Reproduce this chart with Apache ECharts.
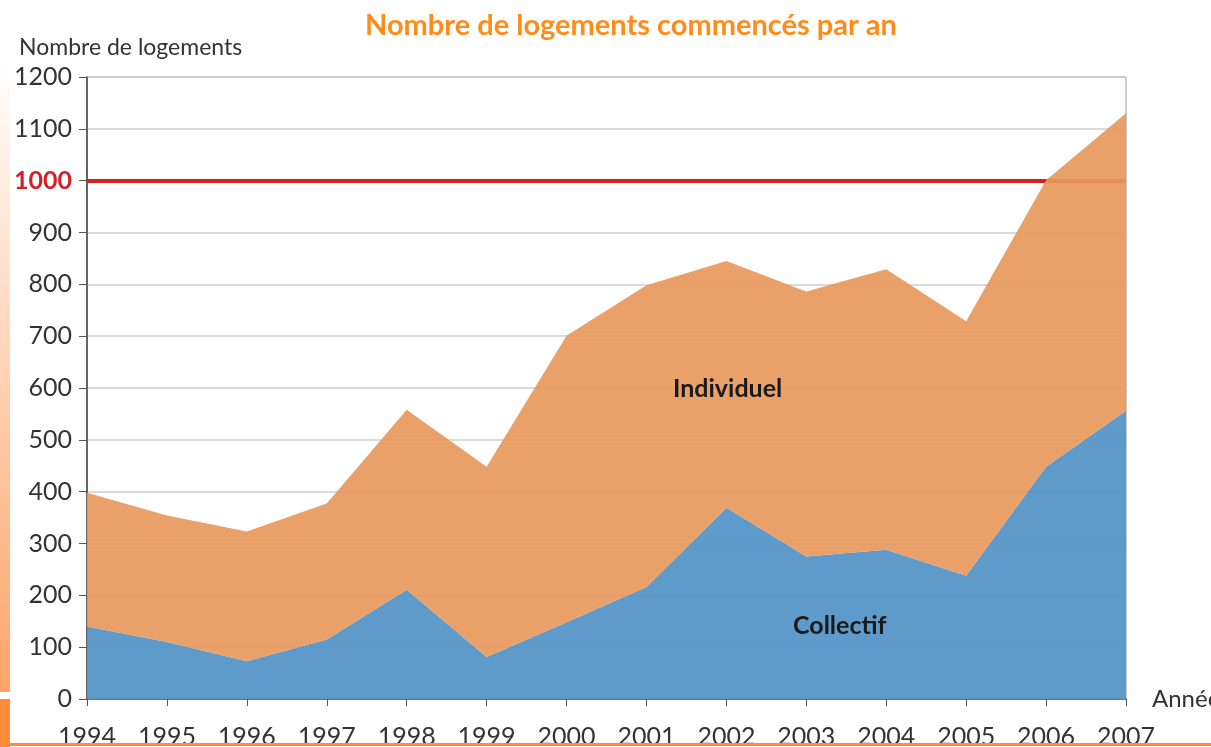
<!DOCTYPE html>
<html>
<head>
<meta charset="utf-8">
<script src="https://cdn.jsdelivr.net/npm/echarts@6/dist/echarts.min.js"></script>
<style>
  html, body { margin: 0; padding: 0; background: #fff; }
  #main { width: 1211px; height: 747px; }
</style>
</head>
<body>
<div id="main"></div>
<script>
const years = ['1994', '1995', '1996', '1997', '1998', '1999', '2000', '2001', '2002', '2003', '2004', '2005', '2006', '2007'];
const collectif = [140, 110, 73, 115, 211, 81, 148, 216, 369, 275, 288, 238, 448, 556];
const individuel = [258, 244, 250, 262, 347, 367, 553, 582, 476, 511, 541, 491, 553, 574];
const seuil = 1000;

const chart = echarts.init(document.getElementById('main'));
const FONT = 'Lato, "Noto Sans", sans-serif';

const option = {
    backgroundColor: '#fff',
    animation: false,
    textStyle: { fontFamily: FONT },
    title: [
        {
            text: 'Nombre de logements commencés par an',
            left: 360,
            top: 6,
            textStyle: { fontSize: 29, fontWeight: 'bold', color: '#FF8C1A', fontFamily: FONT }
        },
        {
            text: 'Nombre de logements',
            left: 14,
            top: 31,
            textStyle: { fontSize: 23, fontWeight: 'normal', color: '#333', fontFamily: FONT }
        }
    ],
    grid: {
        left: 87, right: 85, top: 77, bottom: 48,
        outerBoundsMode: 'none',
        containLabel: false,
        show: true, borderColor: '#999', borderWidth: 1
    },
    xAxis: {
        type: 'category',
        data: years,
        boundaryGap: false,
        name: 'Année',
        nameLocation: 'end',
        nameGap: 26,
        nameTextStyle: { fontSize: 24, color: '#333', verticalAlign: 'middle' },
        axisLine: { lineStyle: { color: '#555', width: 1.5 } },
        axisTick: { show: true, length: 7, lineStyle: { color: '#555' } },
        axisLabel: { fontSize: 25, color: '#333', margin: 25, interval: 0 }
    },
    yAxis: {
        type: 'value',
        min: 0, max: 1200, interval: 100,
        axisLine: { show: true, lineStyle: { color: '#444', width: 1.5 } },
        axisTick: { show: true, length: 8, lineStyle: { color: '#555' } },
        axisLabel: {
            fontSize: 25, color: '#333', margin: 15,
            formatter: function (v) { return v === seuil ? '{r|' + v + '}' : String(v); },
            rich: { r: { color: '#D42027', fontWeight: 'bold', fontSize: 25 } }
        },
        splitLine: { lineStyle: { color: '#cfcfcf', width: 1.5 } }
    },
    series: [
        {
            name: 'seuil',
            type: 'line',
            data: [],
            z: 1,
            markLine: {
                z: 1,
                silent: true,
                symbol: 'none',
                label: { show: false },
                lineStyle: { color: '#D42027', width: 4, type: 'solid' },
                data: [{ yAxis: seuil }]
            }
        },
        {
            name: 'Collectif',
            type: 'line',
            stack: 'total',
            data: collectif,
            z: 3,
            showSymbol: false,
            lineStyle: { width: 0 },
            itemStyle: { color: '#5696C7' },
            areaStyle: { color: '#5696C7', opacity: 0.95 }
        },
        {
            name: 'Individuel',
            type: 'line',
            stack: 'total',
            data: individuel,
            z: 3,
            showSymbol: false,
            lineStyle: { width: 0 },
            itemStyle: { color: '#E8985C' },
            areaStyle: { color: '#E8985C', opacity: 0.92 }
        }
    ],
    graphic: [
        {
            type: 'text', left: 673, top: 376, z: 10,
            style: { text: 'Individuel', font: 'bold 25px ' + FONT, fill: '#1a1a1a' }
        },
        {
            type: 'text', left: 793, top: 613, z: 10,
            style: { text: 'Collectif', font: 'bold 25px ' + FONT, fill: '#1a1a1a' }
        },
        {
            type: 'rect', left: 0, top: 60, z: 10,
            shape: { width: 10, height: 632 },
            style: {
                fill: new echarts.graphic.LinearGradient(0, 0, 0, 1, [
                    { offset: 0, color: '#ffffff' },
                    { offset: 1, color: '#FFA468' }
                ])
            }
        },
        {
            type: 'rect', left: 0, top: 699, z: 10,
            shape: { width: 10, height: 48 },
            style: { fill: '#FF8C3A' }
        },
        {
            type: 'rect', left: 0, top: 743, z: 10,
            shape: { width: 1211, height: 3 },
            style: { fill: '#FF8C3A' }
        }
    ]
};

chart.setOption(option);
window.addEventListener('resize', function () { chart.resize(); });
</script>
</body>
</html>
